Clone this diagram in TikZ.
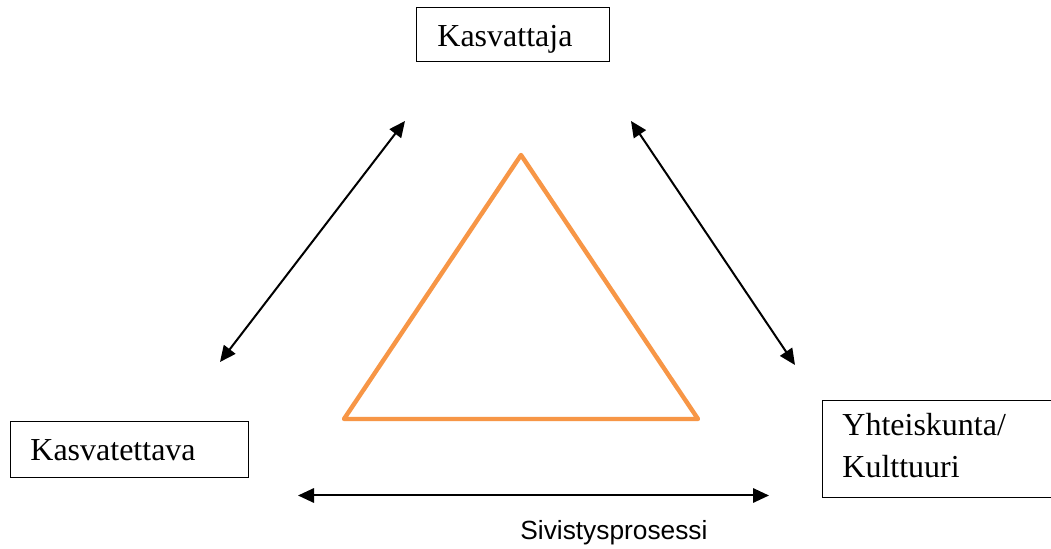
\documentclass[tikz,border=0pt]{standalone}
\usepackage{fontspec}
\setmainfont{Liberation Serif}
\newfontfamily\arialf{Liberation Sans}
\usetikzlibrary{arrows.meta}
\definecolor{triorange}{HTML}{F79646}
\tikzset{
  boxframe/.style={draw=black, line width=0.65pt, inner sep=0pt, anchor=north west},
  boxtext/.style={inner sep=0pt, anchor=base west, font=\fontsize{16}{21.5}\selectfont, align=left},
  sanstext/.style={inner sep=0pt, anchor=base west, font=\arialf\fontsize{13.15}{16}\selectfont},
  biarrow/.style={line width=1pt, {Triangle[length=8pt,width=7.2pt]}-{Triangle[length=8pt,width=7.2pt]}},
  tri/.style={draw=triorange, line width=2.2pt, line join=round}
}
\begin{document}
\begin{tikzpicture}[x=0.5pt,y=-0.5pt]
\useasboundingbox (0,0) rectangle (1051,549);
\clip (0,0) rectangle (1051,549);
\fill[white] (0,0) rectangle (1051,549);
% boxes
\node[boxframe, minimum width=96.5pt, minimum height=27pt] (topbox) at (416,7) {};
\node[boxtext] (toptext) at (437,47) {Kasvattaja};
\node[boxframe, minimum width=119pt, minimum height=28pt] (leftbox) at (10,421) {};
\node[boxtext] (lefttext) at (30,460.5) {Kasvatettava};
\node[boxframe, minimum width=120pt, minimum height=48.5pt] (rightbox) at (822,400) {};
\node[boxtext] (righttext1) at (842,435.5) {Yhteiskunta/};
\node[boxtext] (righttext2) at (842,478) {Kulttuuri};
% triangle
\coordinate (apex) at (521,155);
\coordinate (bl) at (344,419);
\coordinate (br) at (698,419);
\draw[tri] (apex) -- (bl) -- (br) -- cycle;
% arrows
\coordinate (la1) at (405,121);
\coordinate (la2) at (220,362);
\coordinate (ra1) at (631,121);
\coordinate (ra2) at (795,365);
\coordinate (ha1) at (298,495.5);
\coordinate (ha2) at (769,495.5);
\draw[biarrow] (la1) -- (la2);
\draw[biarrow] (ra1) -- (ra2);
\draw[biarrow] (ha1) -- (ha2);
\node[sanstext] (proc) at (520,540) {Sivistysprosessi};
\end{tikzpicture}
\end{document}
